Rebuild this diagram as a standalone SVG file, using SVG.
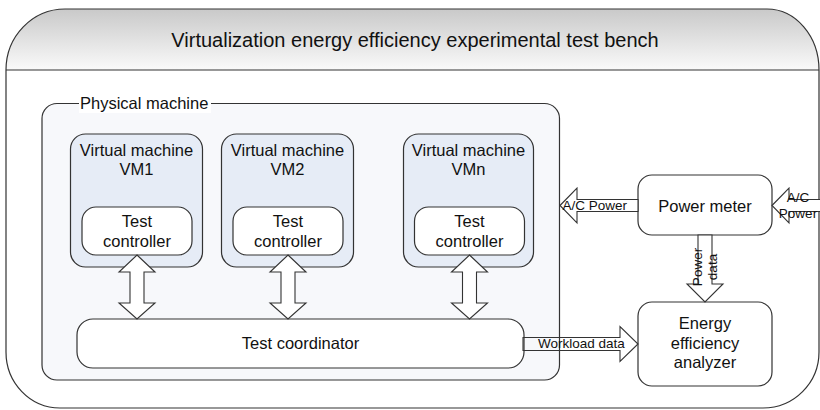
<svg xmlns="http://www.w3.org/2000/svg" width="820" height="410" viewBox="0 0 820 410">
  <defs>
    <linearGradient id="headerFill" x1="0" y1="0" x2="0" y2="1">
      <stop offset="0" stop-color="#c9c9c9"/>
      <stop offset="1" stop-color="#fafafa"/>
    </linearGradient>
    <!-- two-headed block arrow, centred on x=0, from y=0 to y=64 -->
    <path id="dblArrow" d="M0,0 L18,17 L7,17 L7,48 L18,48 L0,64 L-18,48 L-7,48 L-7,17 L-18,17 Z"/>
    <style>
      text { font-family: "Liberation Sans", Arial, sans-serif; fill: #111; }
      .node { font-size: 16.5px; text-anchor: middle; }
      .title { font-size: 20px; text-anchor: middle; }
      .small { font-size: 13.5px; }
      .line { stroke: #333; stroke-width: 1.2; }
      .box { fill: #ffffff; stroke: #333; stroke-width: 1.2; }
      .vm { fill: #e6ecf6; stroke: #333; stroke-width: 1.2; }
      .arrow { fill: #ffffff; stroke: #333; stroke-width: 1.1; stroke-linejoin: miter; }
    </style>
  </defs>

  <!-- outer test bench frame with shaded header band -->
  <g id="testbench">
    <path d="M6,70 A59,61 0 0 1 65,9 L767,9 A52,61 0 0 1 819,70 Z" fill="url(#headerFill)" stroke="none"/>
    <path class="line" fill="none" d="M6,70 A59,61 0 0 1 65,9 L767,9 A52,61 0 0 1 819,70 L819,352 A56,56 0 0 1 763,408 L60,408 A54,56 0 0 1 6,352 Z"/>
    <line class="line" x1="6" y1="70" x2="819" y2="70"/>
    <text class="title" x="415" y="47">Virtualization energy efficiency experimental test bench</text>
  </g>

  <!-- physical machine container -->
  <g id="physical-machine">
    <rect x="42" y="103.5" width="517.5" height="276.5" rx="15" fill="#f7f8fb" stroke="#333" stroke-width="1.2"/>
    <rect x="79" y="92" width="132" height="21" fill="#ffffff"/>
    <text class="node" x="80" y="109" style="text-anchor:start">Physical machine</text>
  </g>

  <g id="vm1">
    <rect class="vm" x="70.5" y="134" width="132" height="133" rx="15"/>
    <text class="node" x="136.5" y="156">Virtual machine</text>
    <text class="node" x="136.5" y="175">VM1</text>
  </g>
  <g id="vm2">
    <rect class="vm" x="221.5" y="134" width="132" height="133" rx="15"/>
    <text class="node" x="287.5" y="156">Virtual machine</text>
    <text class="node" x="287.5" y="175">VM2</text>
  </g>
  <g id="vmn">
    <rect class="vm" x="403.5" y="134" width="130" height="133" rx="15"/>
    <text class="node" x="468.5" y="156">Virtual machine</text>
    <text class="node" x="468.5" y="175">VMn</text>
  </g>

  <g id="controller1">
    <rect class="box" x="82" y="207" width="110" height="48" rx="14"/>
    <text class="node" x="137" y="227">Test</text>
    <text class="node" x="137" y="247">controller</text>
  </g>
  <g id="controller2">
    <rect class="box" x="233" y="207" width="110" height="48" rx="14"/>
    <text class="node" x="288" y="227">Test</text>
    <text class="node" x="288" y="247">controller</text>
  </g>
  <g id="controllern">
    <rect class="box" x="414.5" y="207" width="110" height="48" rx="14"/>
    <text class="node" x="469.5" y="227">Test</text>
    <text class="node" x="469.5" y="247">controller</text>
  </g>

  <g id="coordinator">
    <rect class="box" x="77" y="319" width="447" height="49" rx="16"/>
    <text class="node" x="300.5" y="349">Test coordinator</text>
  </g>

  <g id="power-meter">
    <rect class="box" x="638" y="175" width="134" height="60" rx="14"/>
    <text class="node" x="705" y="212">Power meter</text>
  </g>

  <g id="analyzer">
    <rect class="box" x="638" y="302" width="134" height="84" rx="14"/>
    <text class="node" x="705" y="329">Energy</text>
    <text class="node" x="705" y="348.5">efficiency</text>
    <text class="node" x="705" y="368">analyzer</text>
  </g>

  <!-- connectors -->
  <g id="connectors">
    <use href="#dblArrow" class="arrow" x="137" y="255"/>
    <use href="#dblArrow" class="arrow" x="288" y="255"/>
    <use href="#dblArrow" class="arrow" x="469.5" y="255"/>

    <!-- mains power into the physical machine -->
    <polygon class="arrow" points="560,205.5 577,188 577,199.5 638,199.5 638,211.5 577,211.5 577,223"/>
    <text class="small" x="562.5" y="210">A/C Power</text>

    <!-- mains power into the power meter -->
    <polygon class="arrow" points="772,205.5 789,188 789,199.5 832,199.5 832,211.5 789,211.5 789,223"/>
    <text class="small" x="798" y="202" text-anchor="middle">A/C</text>
    <text class="small" x="798" y="217.5" text-anchor="middle">Power</text>

    <!-- power readings to the analyzer -->
    <polygon class="arrow" points="698,235 712,235 712,284 723,284 705,302 687,284 698,284"/>
    <text class="small" transform="translate(701.5,267) rotate(-90)" text-anchor="middle">Power</text>
    <text class="small" transform="translate(717,267) rotate(-90)" text-anchor="middle">data</text>

    <!-- workload data to the analyzer -->
    <polygon class="arrow" style="fill:none" points="523,337.5 620,337.5 620,326.5 638,344 620,361.5 620,350.5 523,350.5"/>
    <text class="small" x="538" y="348">Workload data</text>
  </g>
</svg>
